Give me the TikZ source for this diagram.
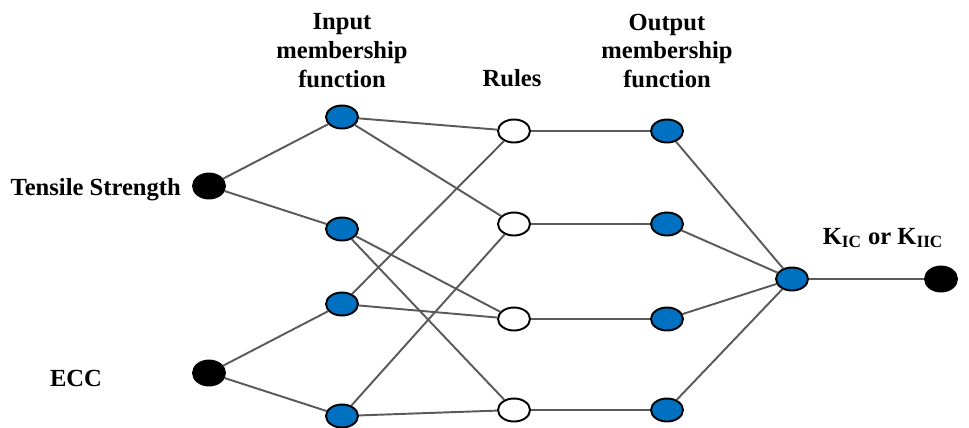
\documentclass[tikz,border=0pt]{standalone}
\usepackage{fontspec}
\setmainfont{Liberation Serif}
\usetikzlibrary{shapes.geometric}
\definecolor{mfblue}{RGB}{0,112,192}
\definecolor{linkgray}{RGB}{90,90,90}
\begin{document}
\begin{tikzpicture}[x=0.02cm,y=-0.02cm]
              \tikzstyle{every node}+=[font=\bfseries\fontsize{14}{16.5}\selectfont]
              \tikzstyle{io}=[ellipse,draw=black,line width=1.1pt,fill=black,minimum width=0.64cm,minimum height=0.5cm,inner sep=0pt]
              \tikzstyle{mf}=[io,fill=mfblue,minimum height=0.46cm]
              \tikzstyle{rule}=[io,fill=white,minimum height=0.46cm]
              \tikzstyle{link}=[draw=linkgray,line width=1.1pt]
              \useasboundingbox (0,0) rectangle (969,427);
              % inputs
              \node [io] (ts) at (209,186) {};
              \node [io] (ecc) at (209,373) {};
              % input membership functions
              \node [mf] (in1) at (342,117) {};
              \node [mf] (in2) at (342,229) {};
              \node [mf] (in3) at (342,304) {};
              \node [mf] (in4) at (342,416) {};
              % rules
              \node [rule] (r1) at (514,131) {};
              \node [rule] (r2) at (514,224) {};
              \node [rule] (r3) at (514,319) {};
              \node [rule] (r4) at (514,410) {};
              % output membership functions
              \node [mf] (out1) at (667,131) {};
              \node [mf] (out2) at (667,224) {};
              \node [mf] (out3) at (667,319) {};
              \node [mf] (out4) at (667,410) {};
              \node [mf] (agg) at (792,279) {};
              \node [io] (k) at (941,279) {};
              % labels
              \node [anchor=east] (tslabel) at (187,190) {Tensile Strength};
              \node (ecclabel) at (76,378) {ECC};
              \node [align=center] (inlabel) at (342,51) {Input\\membership\\function};
              \node (rulelabel) at (512,78) {Rules};
              \node [align=center] (outlabel) at (667,51) {Output\\membership\\function};
              \node (klabel) at (883,238) {K\textsubscript{IC} or K\textsubscript{IIC}};
              % links
              \draw [link] (ts) -- (in1);
              \draw [link] (ts) -- (in2);
              \draw [link] (ecc) -- (in3);
              \draw [link] (ecc) -- (in4);
              \draw [link] (in1) -- (r1);
              \draw [link] (in1) -- (r2);
              \draw [link] (in2) -- (r3);
              \draw [link] (in2) -- (r4);
              \draw [link] (in3) -- (r1);
              \draw [link] (in3) -- (r3);
              \draw [link] (in4) -- (r2);
              \draw [link] (in4) -- (r4);
              \draw [link] (r1) -- (out1);
              \draw [link] (r2) -- (out2);
              \draw [link] (r3) -- (out3);
              \draw [link] (r4) -- (out4);
              \draw [link] (out1) -- (agg);
              \draw [link] (out2) -- (agg);
              \draw [link] (out3) -- (agg);
              \draw [link] (out4) -- (agg);
              \draw [link] (agg) -- (k);
            \end{tikzpicture}
\end{document}
